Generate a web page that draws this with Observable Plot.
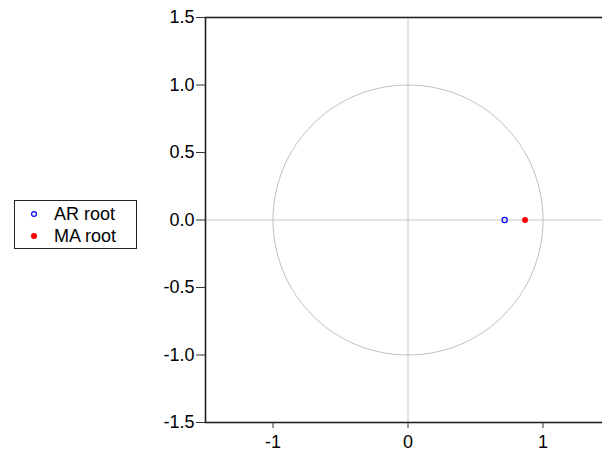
<!DOCTYPE html>
<html>
<head>
<meta charset="utf-8">
<script src="https://cdn.jsdelivr.net/npm/d3@7"></script>
<script src="https://cdn.jsdelivr.net/npm/@observablehq/plot@0.6"></script>
<style>
  html, body { margin: 0; padding: 0; background: white; overflow: hidden; }
  #wrap { position: relative; width: 602px; height: 453px; overflow: hidden; font-family: "Liberation Sans", Arial, sans-serif; }
  #chart { position: absolute; left: 0; top: 0; width: 610px; }
  #chart svg { max-width: none !important; width: 610px; height: 453px; }
  #legend { position: absolute; left: 14px; top: 200px; width: 123px; height: 49px; border: 1px solid #222; box-sizing: border-box; background: white; }
  .item { position: absolute; left: 0; font-size: 18px; color: #000; line-height: 18px; }
  .item svg { position: absolute; left: 14px; top: 4px; }
  .item span { position: absolute; left: 39px; white-space: nowrap; }
</style>
</head>
<body>
<div id="wrap">
  <div id="chart"></div>
  <div id="legend"></div>
</div>
<script>
// Data
const seriesNames = ["AR root", "MA root"];
const arRootRe = [0.716];
const arRootIm = [0.0];
const maRootRe = [0.867];
const maRootIm = [0.0];
const xTicks = [-1, 0, 1];
const yTicks = [-1.5, -1.0, -0.5, 0.0, 0.5, 1.0, 1.5];
const seriesColors = ["#0000ff", "#ff0000"];

const arData = arRootRe.map((re, i) => ({re, im: arRootIm[i]}));
const maData = maRootRe.map((re, i) => ({re, im: maRootIm[i]}));
// unit circle reference
const unitCircle = d3.range(0, 361, 2).map(a => ({re: Math.cos(a * Math.PI / 180), im: Math.sin(a * Math.PI / 180)}));

const chart = Plot.plot({
  width: 610,
  height: 453,
  marginLeft: 205,
  marginRight: 0,
  marginTop: 17,
  marginBottom: 31,
  style: {fontFamily: "'Liberation Sans', Arial, sans-serif", color: "#000", background: "white", maxWidth: "none"},
  x: {domain: [-1.5, 1.5]},
  y: {domain: [-1.5, 1.5]},
  marks: [
    Plot.ruleX([0], {stroke: "#c8c8c8", strokeWidth: 1}),
    Plot.ruleY([0], {stroke: "#c8c8c8", strokeWidth: 1}),
    Plot.line(unitCircle, {x: "re", y: "im", stroke: "#c0c0c0", strokeWidth: 1, curve: "linear"}),
    Plot.dot(arData, {x: "re", y: "im", r: 2.6, stroke: seriesColors[0], strokeWidth: 1.2, fill: "none"}),
    Plot.dot(maData, {x: "re", y: "im", r: 3, fill: seriesColors[1], stroke: "none"}),
    Plot.frame({stroke: "#222", strokeWidth: 1.6}),
    Plot.axisY({ticks: yTicks, tickSize: 9, tickPadding: 2, fontSize: 18, tickFormat: d => d.toFixed(1), label: null, stroke: "#333"}),
    Plot.axisX({ticks: xTicks, tickSize: 6, tickPadding: 7, fontSize: 18, tickFormat: d => String(d), label: null, stroke: "#333"})
  ]
});
document.getElementById("chart").appendChild(chart);

// Legend
const legend = document.getElementById("legend");
const tops = [4, 26];
seriesNames.forEach((name, i) => {
  const item = document.createElement("div");
  item.className = "item";
  item.style.top = tops[i] + "px";
  const sym = i === 0
    ? `<svg width="10" height="10"><circle cx="5" cy="5" r="2.4" fill="none" stroke="${seriesColors[0]}" stroke-width="1.2"/></svg>`
    : `<svg width="10" height="10"><circle cx="5" cy="5" r="3" fill="${seriesColors[1]}"/></svg>`;
  item.innerHTML = sym + `<span>${name}</span>`;
  legend.appendChild(item);
});
</script>
</body>
</html>
